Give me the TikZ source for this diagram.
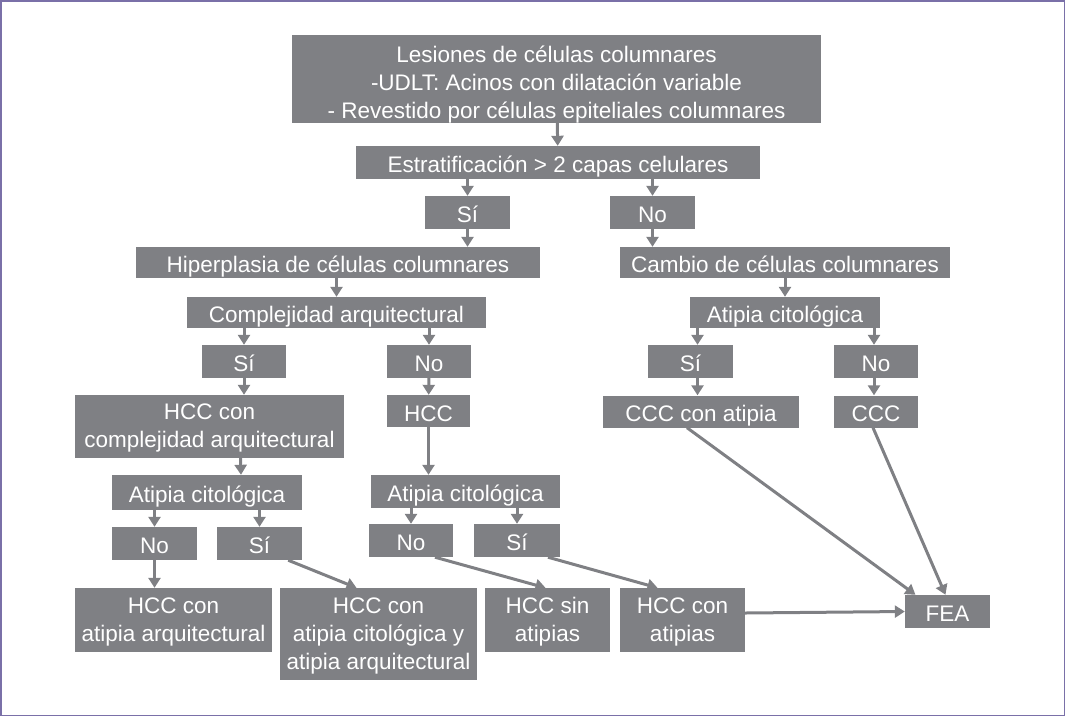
\documentclass[tikz,border=0pt]{standalone}
\usepackage{fontspec}
\setmainfont{Liberation Sans}
\usepackage{xcolor}
\usetikzlibrary{positioning, calc, arrows.meta}
\definecolor{boxgray}{RGB}{127,128,132}
\definecolor{framepurple}{RGB}{122,112,168}

\begin{document}
\begin{tikzpicture}[x=1pt, y=-1pt,
    box/.style={fill=boxgray, text=white, inner sep=0pt, align=center,
        minimum height=33pt, text height=21pt, text depth=1pt,
        font=\fontsize{22.5}{28}\selectfont},
    twoline/.style={text height=43pt},
    threeline/.style={text height=71pt},
    arr/.style={draw=boxgray, line width=3pt, -{Triangle[length=10pt,width=12pt]}}]

    % frame round the whole figure
    \draw[framepurple, line width=1.5pt] (0.75,0.75) rectangle (1064.25,715.25);
    \useasboundingbox (0,0) rectangle (1065,716);

    % top of the tree
    \node[box, minimum width=529pt, minimum height=88pt, text height=79pt] (lesion) at (556.5,79)
        {Lesiones de células columnares\\-UDLT: Acinos con dilatación variable\\- Revestido por células epiteliales columnares};
    \node[box, minimum width=404pt] (estrat) at (558,162.5) {Estratificación > 2 capas celulares};
    \node[box, minimum width=85pt] (siA) at (467.5,212.5) {Sí};
    \node[box, minimum width=85pt] (noA) at (652.5,212.5) {No};

    % left branch
    \node[box, minimum width=404pt, minimum height=31pt] (hiper) at (338,262.5) {Hiperplasia de células columnares};
    \node[box, minimum width=299pt, minimum height=31pt] (complej) at (336.5,312.5) {Complejidad arquitectural};
    \node[box, minimum width=84pt] (siB) at (244,361.5) {Sí};
    \node[box, minimum width=84pt] (noB) at (429,361.5) {No};
    \node[box, twoline, minimum width=269pt, minimum height=63pt] (hccComp) at (209.5,426.5)
        {HCC con\\complejidad arquitectural};
    \node[box, minimum width=83pt, minimum height=32pt] (hcc) at (428.5,411) {HCC};
    \node[box, minimum width=190pt, minimum height=35pt] (atipL) at (207,492.5) {Atipia citológica};
    \node[box, minimum width=189pt] (atipM) at (465.5,491.5) {Atipia citológica};
    \node[box, minimum width=85pt] (noC) at (154.5,543.5) {No};
    \node[box, minimum width=85pt] (siC) at (259.5,543.5) {Sí};
    \node[box, minimum width=84pt] (noD) at (411,540.5) {No};
    \node[box, minimum width=86pt] (siD) at (517,540.5) {Sí};

    % bottom row
    \node[box, twoline, minimum width=197pt, minimum height=64pt] (hccArq) at (173.5,620)
        {HCC con\\atipia arquitectural};
    \node[box, threeline, minimum width=197pt, minimum height=92pt] (hccCitArq) at (378.5,634)
        {HCC con\\atipia citológica y\\atipia arquitectural};
    \node[box, twoline, minimum width=125pt, minimum height=64pt] (hccSin) at (547.5,620) {HCC sin\\atipias};
    \node[box, twoline, minimum width=125pt, minimum height=64pt] (hccCon) at (682.5,620) {HCC con\\atipias};
    \node[box, minimum width=85pt] (fea) at (947.5,611.5) {FEA};

    % right branch
    \node[box, minimum width=330pt, minimum height=31pt] (cambio) at (785,262.5) {Cambio de células columnares};
    \node[box, minimum width=190pt, minimum height=31pt] (atipR) at (785,312.5) {Atipia citológica};
    \node[box, minimum width=85pt] (siE) at (690.5,361.5) {Sí};
    \node[box, minimum width=84pt] (noE) at (876,361.5) {No};
    \node[box, minimum width=196pt, minimum height=32pt] (cccAt) at (701,411.5) {CCC con atipia};
    \node[box, minimum width=84pt, minimum height=32pt] (ccc) at (876,411.5) {CCC};

    % vertical connectors
    \draw[arr] (lesion) -- (estrat);
    \draw[arr] (estrat.south -| siA) -- (siA);
    \draw[arr] (estrat.south -| noA) -- (noA);
    \draw[arr] (siA) -- (hiper.north -| siA);
    \draw[arr] (noA) -- (cambio.north -| noA);
    \draw[arr] (hiper.south -| complej) -- (complej);
    \draw[arr] (complej.south -| siB) -- (siB);
    \draw[arr] (complej.south -| noB) -- (noB);
    \draw[arr] (siB) -- (hccComp.north -| siB);
    \draw[arr] (noB) -- (hcc);
    \draw[arr] ([xshift=31pt]hccComp.south) -- ([xshift=34pt]atipL.north);
    \draw[arr] (hcc) -- (atipM.north -| hcc);
    \draw[arr] (atipL.south -| noC) -- (noC);
    \draw[arr] (atipL.south -| siC) -- (siC);
    \draw[arr] (atipM.south -| noD) -- (noD);
    \draw[arr] (atipM.south -| siD) -- (siD);
    \draw[arr] (noC) -- (hccArq.north -| noC);
    \draw[arr] (cambio) -- (atipR);
    \draw[arr] ([xshift=7pt]atipR.south -| siE) -- ([xshift=7pt]siE.north);
    \draw[arr] ([xshift=-2pt]atipR.south -| noE) -- ([xshift=-2pt]noE.north);
    \draw[arr] ([xshift=7pt]siE.south) -- ([xshift=7pt]siE.south |- cccAt.north);
    \draw[arr] ([xshift=-2pt]noE.south) -- ([xshift=-2pt]ccc.north);

    % slanted connectors
    \draw[arr] ([xshift=-14pt]siC.south east) -- ([xshift=-22pt]hccCitArq.north);
    \draw[arr] ([xshift=24pt]noD.south) -- ([xshift=-2pt]hccSin.north);
    \draw[arr] ([xshift=31pt]siD.south) -- ([xshift=-25pt]hccCon.north);
    \draw[arr] ([xshift=-14pt]cccAt.south) -- ([xshift=-32pt]fea.north);
    \draw[arr] ([xshift=-3pt]ccc.south) -- ([xshift=-2pt]fea.north);
    \draw[arr] ([yshift=7pt]hccCon.east) -- (fea.west);

\end{tikzpicture}
\end{document}
